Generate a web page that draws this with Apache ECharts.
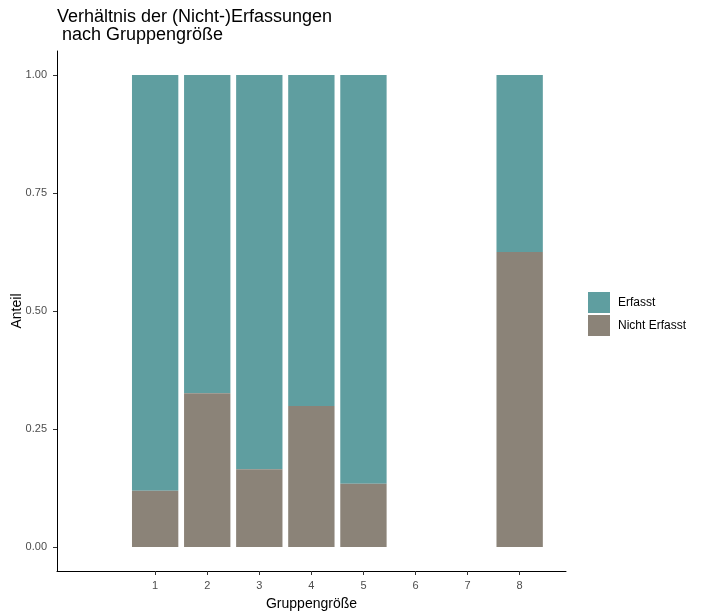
<!DOCTYPE html>
<html>
<head>
<meta charset="utf-8">
<script src="https://cdn.jsdelivr.net/npm/echarts@6/dist/echarts.min.js"></script>
<style>
  html, body { margin: 0; padding: 0; background: #fff; }
  #chart { width: 703px; height: 616px; }
</style>
</head>
<body>
<div id="chart"></div>
<script>
// Gruppengröße on the x axis
const groups = [1, 2, 3, 4, 5, 8];
// share per group
const nichtErfasst = [0.119, 0.326, 0.165, 0.299, 0.134, 0.625];
const erfasst = [0.881, 0.674, 0.835, 0.701, 0.866, 0.375];
const xTicks = [1, 2, 3, 4, 5, 6, 7, 8];
const yTicks = [0, 0.25, 0.5, 0.75, 1];

const BAR_HALF = 0.445; // half bar width in x units

const chart = echarts.init(document.getElementById('chart'));

const tickLabel = { fontFamily: 'Liberation Sans', fontSize: 11, color: '#4D4D4D' };

// stacked rectangle: value = [x, base, height]
function renderStack(params, api) {
  const x = api.value(0);
  const base = api.value(1);
  const top = base + api.value(2);
  const p0 = api.coord([x - BAR_HALF, top]);
  const p1 = api.coord([x + BAR_HALF, base]);
  return {
    type: 'rect',
    shape: { x: p0[0], y: p0[1], width: p1[0] - p0[0], height: p1[1] - p0[1] },
    style: { fill: api.visual('color') }
  };
}

chart.setOption({
  animation: false,
  title: {
    text: 'Verhältnis der (Nicht-)Erfassungen\n nach Gruppengröße',
    left: 52,
    top: 3,
    textStyle: { fontFamily: 'Liberation Sans', fontSize: 18, fontWeight: 'normal', color: '#000', lineHeight: 18 }
  },
  legend: {
    orient: 'vertical',
    left: 588,
    top: 292,
    padding: 0,
    itemWidth: 22,
    itemHeight: 21,
    itemGap: 2,
    icon: 'rect',
    data: ['Erfasst', 'Nicht Erfasst'],
    textStyle: { fontFamily: 'Liberation Sans', fontSize: 12, color: '#000', padding: [0, 0, 0, 3] }
  },
  grid: { left: 57, right: 137, top: 51, bottom: 45, outerBoundsMode: 'none' },
  xAxis: {
    type: 'value',
    min: -0.885,
    max: 8.89,
    name: 'Gruppengröße',
    nameLocation: 'middle',
    nameGap: 26,
    nameMoveOverlap: false,
    nameTextStyle: { fontFamily: 'Liberation Sans', fontSize: 14, color: '#000' },
    axisLine: { show: true, onZero: false, lineStyle: { color: '#000', width: 1 } },
    axisTick: { show: true, length: 4, customValues: xTicks, lineStyle: { color: '#333' } },
    axisLabel: { customValues: xTicks, margin: 9, ...tickLabel },
    splitLine: { show: false }
  },
  yAxis: {
    type: 'value',
    min: -0.0508,
    max: 1.0508,
    name: 'Anteil',
    nameLocation: 'middle',
    nameGap: 33,
    nameRotate: 90,
    nameMoveOverlap: false,
    nameTextStyle: { fontFamily: 'Liberation Sans', fontSize: 14, color: '#000' },
    axisLine: { show: true, onZero: false, lineStyle: { color: '#000', width: 1 } },
    axisTick: { show: true, length: 4, customValues: yTicks, lineStyle: { color: '#333' } },
    axisLabel: { customValues: yTicks, margin: 10, formatter: v => v.toFixed(2), ...tickLabel },
    splitLine: { show: false }
  },
  series: [
    {
      name: 'Erfasst',
      type: 'custom',
      renderItem: renderStack,
      itemStyle: { color: '#5F9EA0' },
      encode: { x: 0, y: [1, 2] },
      data: groups.map((g, i) => [g, nichtErfasst[i], erfasst[i]])
    },
    {
      name: 'Nicht Erfasst',
      type: 'custom',
      renderItem: renderStack,
      itemStyle: { color: '#8B8378' },
      encode: { x: 0, y: [1, 2] },
      data: groups.map((g, i) => [g, 0, nichtErfasst[i]])
    }
  ]
});
</script>
</body>
</html>
